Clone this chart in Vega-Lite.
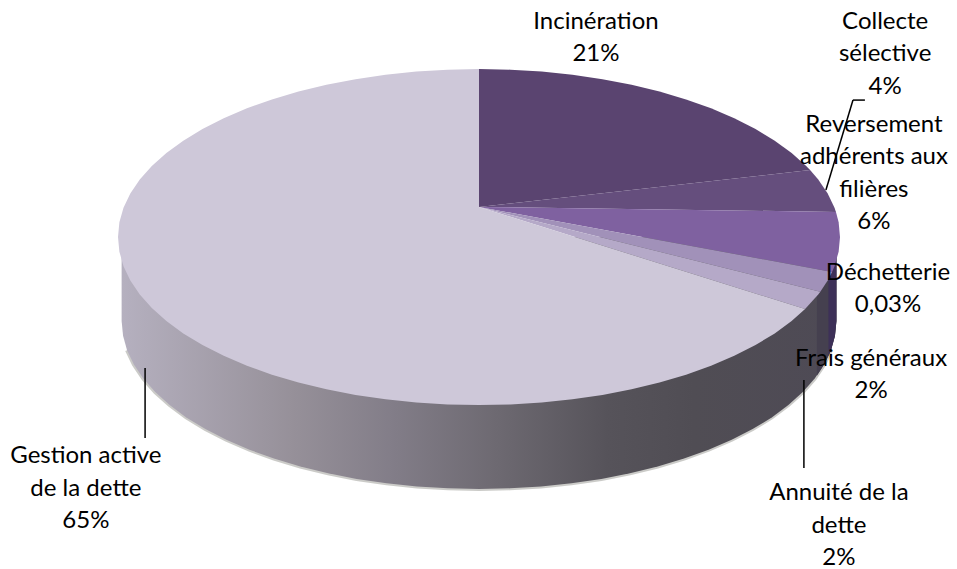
{"$schema":"https://vega.github.io/schema/vega-lite/v6.json","width":957,"height":569,"autosize":"none","padding":0,"background":"white","config":{"view":{"stroke":null}},
"resolve":{"scale":{"fill":"independent"}},
"datasets":{
"wall":[{"x":-0.99,"y":0,"y2":-0.5},{"x":-0.986,"y":0,"y2":-0.587},{"x":-0.975,"y":0,"y2":-0.674},{"x":-0.956,"y":0,"y2":-0.759},{"x":-0.930,"y":0,"y2":-0.842},{"x":-0.897,"y":0,"y2":-0.923},{"x":-0.857,"y":0,"y2":-1.0},{"x":-0.811,"y":0,"y2":-1.074},{"x":-0.758,"y":0,"y2":-1.143},{"x":-0.700,"y":0,"y2":-1.207},{"x":-0.636,"y":0,"y2":-1.266},{"x":-0.568,"y":0,"y2":-1.319},{"x":-0.495,"y":0,"y2":-1.366},{"x":-0.418,"y":0,"y2":-1.406},{"x":-0.339,"y":0,"y2":-1.440},{"x":-0.256,"y":0,"y2":-1.466},{"x":-0.172,"y":0,"y2":-1.485},{"x":-0.086,"y":0,"y2":-1.496},{"x":0,"y":0,"y2":-1.5},{"x":0.086,"y":0,"y2":-1.496},{"x":0.172,"y":0,"y2":-1.485},{"x":0.256,"y":0,"y2":-1.466},{"x":0.339,"y":0,"y2":-1.440},{"x":0.418,"y":0,"y2":-1.406},{"x":0.495,"y":0,"y2":-1.366},{"x":0.568,"y":0,"y2":-1.319},{"x":0.636,"y":0,"y2":-1.266},{"x":0.700,"y":0,"y2":-1.207},{"x":0.758,"y":0,"y2":-1.143},{"x":0.811,"y":0,"y2":-1.074},{"x":0.857,"y":0,"y2":-1.0},{"x":0.897,"y":0,"y2":-0.923},{"x":0.930,"y":0,"y2":-0.842},{"x":0.956,"y":0,"y2":-0.759},{"x":0.975,"y":0,"y2":-0.674},{"x":0.986,"y":0,"y2":-0.587},{"x":0.99,"y":0,"y2":-0.5}],
"wallRight":[{"part":"Frais","x":0.936,"y":0,"y2":-0.826},{"part":"Frais","x":0.956,"y":0,"y2":-0.759},{"part":"Frais","x":0.968,"y":0,"y2":-0.708},{"part":"Frais","x":0.975,"y":0,"y2":-0.674},{"part":"Frais","x":0.986,"y":0,"y2":-0.587},{"part":"Frais","x":0.99,"y":0,"y2":-0.5},{"part":"Reversement","x":0.968,"y":0,"y2":-0.708},{"part":"Reversement","x":0.975,"y":0,"y2":-0.674},{"part":"Reversement","x":0.986,"y":0,"y2":-0.587},{"part":"Reversement","x":0.99,"y":0,"y2":-0.5}],
"slices":[
{"slice":"Incinération","o":0,"x":0,"y":0.179},{"slice":"Incinération","o":1,"x":0,"y":1},{"slice":"Incinération","o":2,"x":0.0872,"y":0.9962},{"slice":"Incinération","o":3,"x":0.1736,"y":0.9848},{"slice":"Incinération","o":4,"x":0.2588,"y":0.9659},{"slice":"Incinération","o":5,"x":0.342,"y":0.9397},{"slice":"Incinération","o":6,"x":0.4226,"y":0.9063},{"slice":"Incinération","o":7,"x":0.5,"y":0.866},{"slice":"Incinération","o":8,"x":0.5736,"y":0.8192},{"slice":"Incinération","o":9,"x":0.6428,"y":0.766},{"slice":"Incinération","o":10,"x":0.7071,"y":0.7071},{"slice":"Incinération","o":11,"x":0.766,"y":0.6428},{"slice":"Incinération","o":12,"x":0.8192,"y":0.5736},{"slice":"Incinération","o":13,"x":0.866,"y":0.5},{"slice":"Incinération","o":14,"x":0.9063,"y":0.4226},{"slice":"Incinération","o":15,"x":0.9171,"y":0.3987},
{"slice":"Collecte","o":0,"x":0,"y":0.179},{"slice":"Collecte","o":1,"x":0.9171,"y":0.3987},{"slice":"Collecte","o":2,"x":0.9397,"y":0.342},{"slice":"Collecte","o":3,"x":0.9659,"y":0.2588},{"slice":"Collecte","o":4,"x":0.9848,"y":0.1736},{"slice":"Collecte","o":5,"x":0.9888,"y":0.1495},
{"slice":"Reversement","o":0,"x":0,"y":0.179},{"slice":"Reversement","o":1,"x":0.9888,"y":0.1495},{"slice":"Reversement","o":2,"x":0.9962,"y":0.0872},{"slice":"Reversement","o":3,"x":1,"y":0},{"slice":"Reversement","o":4,"x":0.9962,"y":-0.0872},{"slice":"Reversement","o":5,"x":0.9848,"y":-0.1736},{"slice":"Reversement","o":6,"x":0.9781,"y":-0.2079},
{"slice":"Frais","o":0,"x":0,"y":0.179},{"slice":"Frais","o":1,"x":0.9781,"y":-0.2079},{"slice":"Frais","o":2,"x":0.9659,"y":-0.2588},{"slice":"Frais","o":3,"x":0.9455,"y":-0.3256},
{"slice":"Annuité","o":0,"x":0,"y":0.179},{"slice":"Annuité","o":1,"x":0.9455,"y":-0.3256},{"slice":"Annuité","o":2,"x":0.9397,"y":-0.342},{"slice":"Annuité","o":3,"x":0.9033,"y":-0.4289},
{"slice":"Gestion","o":0,"x":0,"y":0.179},{"slice":"Gestion","o":1,"x":0.9033,"y":-0.4289},{"slice":"Gestion","o":2,"x":0.866,"y":-0.5},{"slice":"Gestion","o":3,"x":0.8192,"y":-0.5736},{"slice":"Gestion","o":4,"x":0.766,"y":-0.6428},{"slice":"Gestion","o":5,"x":0.7071,"y":-0.7071},{"slice":"Gestion","o":6,"x":0.6428,"y":-0.766},{"slice":"Gestion","o":7,"x":0.5736,"y":-0.8192},{"slice":"Gestion","o":8,"x":0.5,"y":-0.866},{"slice":"Gestion","o":9,"x":0.4226,"y":-0.9063},{"slice":"Gestion","o":10,"x":0.342,"y":-0.9397},{"slice":"Gestion","o":11,"x":0.2588,"y":-0.9659},{"slice":"Gestion","o":12,"x":0.1736,"y":-0.9848},{"slice":"Gestion","o":13,"x":0.0872,"y":-0.9962},{"slice":"Gestion","o":14,"x":0,"y":-1},{"slice":"Gestion","o":15,"x":-0.0872,"y":-0.9962},{"slice":"Gestion","o":16,"x":-0.1736,"y":-0.9848},{"slice":"Gestion","o":17,"x":-0.2588,"y":-0.9659},{"slice":"Gestion","o":18,"x":-0.342,"y":-0.9397},{"slice":"Gestion","o":19,"x":-0.4226,"y":-0.9063},{"slice":"Gestion","o":20,"x":-0.5,"y":-0.866},{"slice":"Gestion","o":21,"x":-0.5736,"y":-0.8192},{"slice":"Gestion","o":22,"x":-0.6428,"y":-0.766},{"slice":"Gestion","o":23,"x":-0.7071,"y":-0.7071},{"slice":"Gestion","o":24,"x":-0.766,"y":-0.6428},{"slice":"Gestion","o":25,"x":-0.8192,"y":-0.5736},{"slice":"Gestion","o":26,"x":-0.866,"y":-0.5},{"slice":"Gestion","o":27,"x":-0.9063,"y":-0.4226},{"slice":"Gestion","o":28,"x":-0.9397,"y":-0.342},{"slice":"Gestion","o":29,"x":-0.9659,"y":-0.2588},{"slice":"Gestion","o":30,"x":-0.9848,"y":-0.1736},{"slice":"Gestion","o":31,"x":-0.9962,"y":-0.0872},{"slice":"Gestion","o":32,"x":-1,"y":0},{"slice":"Gestion","o":33,"x":-0.9962,"y":0.0872},{"slice":"Gestion","o":34,"x":-0.9848,"y":0.1736},{"slice":"Gestion","o":35,"x":-0.9659,"y":0.2588},{"slice":"Gestion","o":36,"x":-0.9397,"y":0.342},{"slice":"Gestion","o":37,"x":-0.9063,"y":0.4226},{"slice":"Gestion","o":38,"x":-0.866,"y":0.5},{"slice":"Gestion","o":39,"x":-0.8192,"y":0.5736},{"slice":"Gestion","o":40,"x":-0.766,"y":0.6428},{"slice":"Gestion","o":41,"x":-0.7071,"y":0.7071},{"slice":"Gestion","o":42,"x":-0.6428,"y":0.766},{"slice":"Gestion","o":43,"x":-0.5736,"y":0.8192},{"slice":"Gestion","o":44,"x":-0.5,"y":0.866},{"slice":"Gestion","o":45,"x":-0.4226,"y":0.9063},{"slice":"Gestion","o":46,"x":-0.342,"y":0.9397},{"slice":"Gestion","o":47,"x":-0.2588,"y":0.9659},{"slice":"Gestion","o":48,"x":-0.1736,"y":0.9848},{"slice":"Gestion","o":49,"x":-0.0872,"y":0.9962},{"slice":"Gestion","o":50,"x":0,"y":1}
],
"leaders":[{"x":-0.925,"y":-0.78,"x2":-0.925,"y2":-1.196},{"x":0.9,"y":-0.851,"x2":0.9,"y2":-1.375},{"x":1.069,"y":0.815,"x2":1.036,"y2":0.815},{"x":1.036,"y":0.815,"x2":0.961,"y2":0.28}],
"labels":[{"label":"Incinération\n21%","share":21,"x":0.324,"y":1.28},{"label":"Collecte\nsélective\n4%","share":4,"x":1.125,"y":1.28},{"label":"Reversement\nadhérents aux\nfilières\n6%","share":6,"x":1.094,"y":0.667},{"label":"Déchetterie\n0,03%","share":0.03,"x":1.133,"y":-0.214},{"label":"Frais généraux\n2%","share":2,"x":1.086,"y":-0.726},{"label":"Annuité de la\ndette\n2%","share":2,"x":0.997,"y":-1.524},{"label":"Gestion active\nde la dette\n65%","share":65,"x":-1.089,"y":-1.304}]
},
"encoding":{
"x":{"field":"x","type":"quantitative","axis":null,"scale":{"domain":[-1.3269,1.3241],"nice":false,"zero":false}},
"y":{"field":"y","type":"quantitative","axis":null,"scale":{"domain":[-1.976,1.4107],"nice":false,"zero":false}}
},
"layer":[
{"data":{"name":"wall"},"transform":[{"filter":"datum.x > -0.98 && datum.x < 0.98"}],"mark":{"type":"line","stroke":"#a8a8a4","strokeWidth":4,"opacity":0.6},"encoding":{"y":{"field":"y2","type":"quantitative"}}},
{"data":{"name":"wall"},"mark":{"type":"area","orient":"vertical","color":{"gradient":"linear","x1":0,"x2":1,"y1":0,"y2":0,"stops":[{"offset":0,"color":"#b5b0bf"},{"offset":0.24,"color":"#969099"},{"offset":0.38,"color":"#827d88"},{"offset":0.52,"color":"#6e6a72"},{"offset":0.68,"color":"#56535a"},{"offset":0.8,"color":"#504d54"},{"offset":1,"color":"#4e4a55"}]}},"encoding":{"y2":{"field":"y2"}}},
{"data":{"name":"wallRight"},"mark":{"type":"area","orient":"vertical"},"encoding":{"y2":{"field":"y2"},"fill":{"field":"part","type":"nominal","legend":null,"scale":{"domain":["Frais","Reversement"],"range":["#45404f","#3d3058"]}}}},
{"data":{"name":"slices"},"mark":{"type":"line","filled":true,"interpolate":"linear-closed","strokeWidth":0},"encoding":{"order":{"field":"o","type":"quantitative"},"fill":{"field":"slice","type":"nominal","legend":null,"scale":{"domain":["Incinération","Collecte","Reversement","Frais","Annuité","Gestion"],"range":["#5a4470","#654e7d","#7f61a0","#a191b9","#b5a9c8","#cec8d9"]}}}},
{"data":{"name":"leaders"},"mark":{"type":"rule","color":"#000000","strokeWidth":1.5},"encoding":{"x2":{"field":"x2"},"y2":{"field":"y2"}}},
{"data":{"name":"labels"},"mark":{"type":"text","font":"Lato","fontSize":24,"color":"#000000","align":"center","baseline":"middle","lineBreak":"\n","lineHeight":32.5},"encoding":{"text":{"field":"label","type":"nominal"}}}
]}
